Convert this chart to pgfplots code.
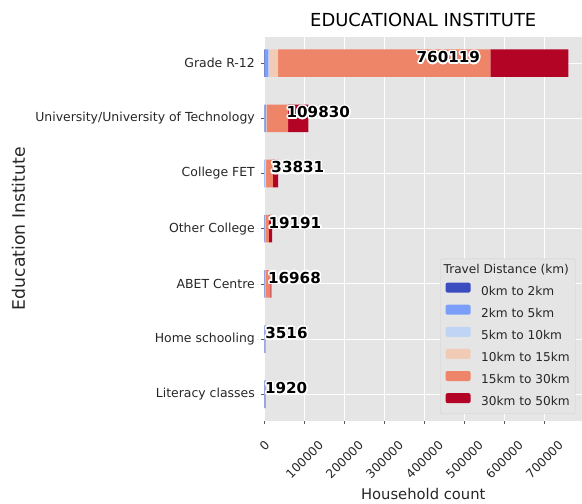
\documentclass[border=0pt]{standalone}
\usepackage{pgfplots}
\pgfplotsset{compat=1.18}
\usepackage{pgfplotstable}
\usepackage{fontspec}
\setmainfont{DejaVu Sans}

\definecolor{bgg}{HTML}{E5E5E5}
\definecolor{cA}{HTML}{3B4CC0}
\definecolor{cB}{HTML}{7B9FF9}
\definecolor{cC}{HTML}{C0D4F5}
\definecolor{cD}{HTML}{F2CBB7}
\definecolor{cE}{HTML}{EE8468}
\definecolor{cF}{HTML}{B40426}

\newcommand\oc[3]{\rlap{\hspace*{#1}\raisebox{#2}{\textcolor{white}{#3}}}}
\newcommand\outl[1]{%
\oc{1.6bp}{0bp}{#1}\oc{-1.6bp}{0bp}{#1}\oc{0bp}{1.6bp}{#1}\oc{0bp}{-1.6bp}{#1}%
\oc{1.13bp}{1.13bp}{#1}\oc{-1.13bp}{1.13bp}{#1}\oc{1.13bp}{-1.13bp}{#1}\oc{-1.13bp}{-1.13bp}{#1}%
\oc{1.48bp}{0.61bp}{#1}\oc{-1.48bp}{0.61bp}{#1}\oc{1.48bp}{-0.61bp}{#1}\oc{-1.48bp}{-0.61bp}{#1}%
\oc{0.61bp}{1.48bp}{#1}\oc{-0.61bp}{1.48bp}{#1}\oc{0.61bp}{-1.48bp}{#1}\oc{-0.61bp}{-1.48bp}{#1}%
\textcolor{black}{#1}}

% y: 0 = Grade R-12 ... 6 = Literacy classes
\pgfplotstableread{
y  d0   d1    d2    d3     d4      d5
0  1000 8000  2000  23000  531000  195119
1  300  3700  300   1000   54000   50530
2  0    1000  300   2500   17000   13031
3  200  500   100   1391   9000    8000
4  200  468   100   1200   12500   2500
5  500  800   200   500    1000    516
6  500  400   100   300    400     220
}\datatable

\pgfplotsset{common/.style={
  at={(0,0)}, anchor=south west,
  scale only axis,
  width=317.5bp, height=384bp,
  xmin=0, xmax=794000,
  ymin=-0.48, ymax=6.48,
  y dir=reverse}}

\begin{document}
\begin{tikzpicture}
\begin{axis}[
  common,
  xbar stacked,
  bar width=0.5,
  axis background/.style={fill=bgg},
  axis line style={draw=none},
  grid=major,
  major grid style={white, line width=0.9bp},
  tick align=outside,
  major tick length=3.5bp,
  tick style={color=black!65, line width=0.6bp},
  xtick pos=bottom, ytick pos=left,
  xtick={0,100000,...,700000},
  scaled x ticks=false,
  /pgf/number format/fixed,
  /pgf/number format/1000 sep={},
  /pgf/number format/assume math mode=true,
  xticklabel={\rotatebox{45}{\pgfmathprintnumber{\tick}}},
  ytick={0,1,2,3,4,5,6},
  yticklabels={Grade R-12, University/University of Technology, College FET, Other College, ABET Centre, Home schooling, Literacy classes},
  yticklabel style={font=\fontsize{12.5}{14}\selectfont, text=black!85, anchor=east, inner sep=0pt, xshift=-6bp},
  xticklabel style={font=\fontsize{12.2}{14}\selectfont, text=black!85, anchor=north, inner sep=0pt, yshift=-15.5bp},
  title={EDUCATIONAL INSTITUTE},
  title style={font=\fontsize{18}{20}\selectfont, at={(axis description cs:0.5,1.011)}, anchor=base, inner sep=0pt},
  xlabel={Household count},
  xlabel style={font=\fontsize{14.8}{17}\selectfont, text=black!85, at={(axis description cs:0.5,-0.2039)}, anchor=base, inner sep=0pt},
  ylabel={Education Institute},
  ylabel style={font=\fontsize{17.3}{19}\selectfont, text=black!85, at={(axis description cs:-0.7748,0.5)}, anchor=center, inner sep=0pt},
  legend cell align=left,
  legend image code/.code={\fill[#1] (0bp,-0.6bp) rectangle (25bp,9.4bp);},
  legend style={
    at={(axis description cs:0.9793,0.0182)}, anchor=south east,
    fill=bgg, draw=black!18, rounded corners=2bp,
    font=\fontsize{12.2}{14}\selectfont, text=black!85,
    inner xsep=5.4bp, inner ysep=5bp,
    nodes={inner sep=0pt, text height=9.2bp, text depth=2.8bp},
    column sep=10.6bp, row sep=6.7bp,
  },
]
\addlegendimage{empty legend}
\addlegendentry{\hspace*{-37.6bp}Travel Distance (km)}
\addplot[fill=cA, draw=none] table[x=d0, y=y] {\datatable};
\addlegendentry{0km to 2km}
\addplot[fill=cB, draw=none] table[x=d1, y=y] {\datatable};
\addlegendentry{2km to 5km}
\addplot[fill=cC, draw=none] table[x=d2, y=y] {\datatable};
\addlegendentry{5km to 10km}
\addplot[fill=cD, draw=none] table[x=d3, y=y] {\datatable};
\addlegendentry{10km to 15km}
\addplot[fill=cE, draw=none] table[x=d4, y=y] {\datatable};
\addlegendentry{15km to 30km}
\addplot[fill=cF, draw=none] table[x=d5, y=y] {\datatable};
\addlegendentry{30km to 50km}
\end{axis}
\begin{axis}[common, hide axis]
\node[anchor=west, inner sep=0pt, font=\fontsize{15.2}{17}\selectfont\bfseries] at (axis cs:380059.5,-0.11) {\outl{760119}};
\node[anchor=west, inner sep=0pt, font=\fontsize{15.2}{17}\selectfont\bfseries] at (axis cs:54915,0.89) {\outl{109830}};
\node[anchor=west, inner sep=0pt, font=\fontsize{15.2}{17}\selectfont\bfseries] at (axis cs:16915.5,1.89) {\outl{33831}};
\node[anchor=west, inner sep=0pt, font=\fontsize{15.2}{17}\selectfont\bfseries] at (axis cs:9595.5,2.89) {\outl{19191}};
\node[anchor=west, inner sep=0pt, font=\fontsize{15.2}{17}\selectfont\bfseries] at (axis cs:8484,3.89) {\outl{16968}};
\node[anchor=west, inner sep=0pt, font=\fontsize{15.2}{17}\selectfont\bfseries] at (axis cs:1758,4.89) {\outl{3516}};
\node[anchor=west, inner sep=0pt, font=\fontsize{15.2}{17}\selectfont\bfseries] at (axis cs:960,5.89) {\outl{1920}};
\end{axis}
\pgfresetboundingbox
\useasboundingbox (-264.5bp,-83.3bp) rectangle (317.5bp,420.7bp);
\end{tikzpicture}
\end{document}
